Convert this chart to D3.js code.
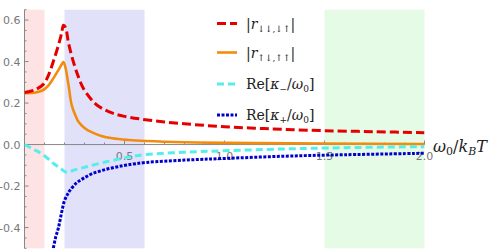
<!DOCTYPE html>
<html>
<head>
<meta charset="utf-8">
<script src="https://cdn.jsdelivr.net/npm/d3@7"></script>
<style>
  body { margin: 0; background: #fff; }
  svg { display: block; }
  .tick-label { font-family: "DejaVu Sans", sans-serif; font-size: 11px; fill: #777; }
  .math { font-family: "DejaVu Serif", "Liberation Serif", serif; fill: #222; }
</style>
</head>
<body>
<script>
var width = 490, height = 252;

// bands (x ranges)
var bands = [
	{ x0: 0.0, x1: 0.1, color: "#fde3e3" },
	{ x0: 0.2, x1: 0.6, color: "#e1e1fa" },
	{ x0: 1.5, x1: 2.0, color: "#e5fbe5" }
];

// |r_{↓↓,↓↑}|
var redX = [0, 0.05, 0.094, 0.12, 0.144, 0.17, 0.185, 0.195, 0.205, 0.22, 0.244, 0.27, 0.294, 0.33, 0.36, 0.4, 0.444, 0.5, 0.58, 0.7, 0.85, 1.0, 1.15, 1.3, 1.5, 1.75, 2.0];
var redY = [0.251, 0.263, 0.29, 0.335, 0.40, 0.48, 0.535, 0.575, 0.565, 0.49, 0.40, 0.325, 0.271, 0.222, 0.192, 0.168, 0.15, 0.136, 0.123, 0.109, 0.096, 0.086, 0.079, 0.073, 0.067, 0.062, 0.057];

// |r_{↑↓,↑↑}|
var orangeX = [0, 0.05, 0.094, 0.12, 0.144, 0.17, 0.185, 0.195, 0.205, 0.22, 0.236, 0.255, 0.27, 0.3, 0.33, 0.38, 0.44, 0.52, 0.61, 0.8, 1.0, 1.5, 2.0];
var orangeY = [0.248, 0.25, 0.263, 0.285, 0.319, 0.36, 0.385, 0.398, 0.37, 0.287, 0.19, 0.14, 0.11, 0.08, 0.062, 0.043, 0.03, 0.022, 0.017, 0.011, 0.008, 0.005, 0.003];

// Re[κ-/ω0]
var cyanX = [0, 0.05, 0.094, 0.144, 0.18, 0.211, 0.25, 0.31, 0.41, 0.51, 0.61, 0.8, 1.0, 1.3, 1.6, 2.0];
var cyanY = [0, -0.025, -0.05, -0.09, -0.115, -0.134, -0.122, -0.107, -0.083, -0.062, -0.048, -0.037, -0.03, -0.021, -0.015, -0.01];

// Re[κ+/ω0]
var blueX = [0.14, 0.155, 0.17, 0.185, 0.2, 0.215, 0.228, 0.26, 0.294, 0.34, 0.394, 0.45, 0.51, 0.61, 0.8, 1.0, 1.3, 1.6, 2.0];
var blueY = [-0.52, -0.45, -0.40, -0.33, -0.27, -0.24, -0.22, -0.185, -0.163, -0.14, -0.123, -0.11, -0.099, -0.086, -0.075, -0.067, -0.056, -0.049, -0.042];

var yMajor = [-0.4, -0.2, 0.0, 0.2, 0.4, 0.6];
var xMajor = [0.5, 1.0, 1.5, 2.0];

var x = d3.scaleLinear().domain([0, 2]).range([24.5, 424.5]);
var y = d3.scaleLinear().domain([-0.5, 0.65]).range([248.3, 9.7]);

var svg = d3.select("body").append("svg")
	.attr("width", width)
	.attr("height", height);

svg.append("clipPath").attr("id", "plot")
	.append("rect")
	.attr("x", x(0)).attr("y", y(0.65))
	.attr("width", x(2) - x(0)).attr("height", y(-0.5) - y(0.65));

// shaded regions
svg.selectAll("rect.band").data(bands).enter().append("rect")
	.attr("class", "band")
	.attr("x", function(d) { return x(d.x0); })
	.attr("y", y(0.65))
	.attr("width", function(d) { return x(d.x1) - x(d.x0); })
	.attr("height", y(-0.5) - y(0.65))
	.attr("fill", function(d) { return d.color; });

// axes
var axisColor = "#888";
var yAxis = svg.append("g").attr("transform", "translate(" + x(0) + ",0)");
yAxis.append("line").attr("y1", y(0.65)).attr("y2", y(-0.5)).attr("stroke", axisColor);
var yMinor = d3.range(-10, 14).map(function(i) { return i * 0.05; });
yAxis.selectAll("line.t").data(yMinor).enter().append("line")
	.attr("class", "t")
	.attr("x1", 0)
	.attr("x2", function(d) { return Math.abs(d / 0.2 - Math.round(d / 0.2)) < 1e-6 ? 4 : 2; })
	.attr("y1", function(d) { return y(d); })
	.attr("y2", function(d) { return y(d); })
	.attr("stroke", axisColor);
yAxis.selectAll("text").data(yMajor).enter().append("text")
	.attr("class", "tick-label")
	.attr("x", -4)
	.attr("y", function(d) { return y(d) + 4; })
	.attr("text-anchor", "end")
	.text(function(d) { return d3.format(".1f")(d).replace("−", "-"); });

var xAxis = svg.append("g").attr("transform", "translate(0," + y(0) + ")");
xAxis.append("line").attr("x1", x(0)).attr("x2", x(2)).attr("stroke", axisColor);
var xMinor = d3.range(1, 21).map(function(i) { return i * 0.1; });
xAxis.selectAll("line.t").data(xMinor).enter().append("line")
	.attr("class", "t")
	.attr("x1", function(d) { return x(d); })
	.attr("x2", function(d) { return x(d); })
	.attr("y1", 0)
	.attr("y2", function(d) { return Math.abs(d / 0.5 - Math.round(d / 0.5)) < 1e-6 ? -4 : -2; })
	.attr("stroke", axisColor);

// curves
function pts(xs, ys) { return xs.map(function(v, i) { return [v, ys[i]]; }); }
var line = d3.line()
	.x(function(d) { return x(d[0]); })
	.y(function(d) { return y(d[1]); })
	.curve(d3.curveCatmullRom.alpha(0.5));

var curves = [
	{ data: pts(orangeX, orangeY), color: "#f28c0f", w: 2.6, dash: null },
	{ data: pts(redX, redY), color: "#e50000", w: 3, dash: "9,4" },
	{ data: pts(cyanX, cyanY), color: "#55eeee", w: 3, dash: "7,4" },
	{ data: pts(blueX, blueY), color: "#0000cc", w: 3, dash: "3,1.5" }
];

var g = svg.append("g").attr("clip-path", "url(#plot)");
g.selectAll("path").data(curves).enter().append("path")
	.attr("d", function(d) { return line(d.data); })
	.attr("fill", "none")
	.attr("stroke", function(d) { return d.color; })
	.attr("stroke-width", function(d) { return d.w; })
	.attr("stroke-dasharray", function(d) { return d.dash; });

// x tick labels (drawn over curves)
xAxis.selectAll("text").data(xMajor).enter().append("text")
	.attr("class", "tick-label")
	.attr("x", function(d) { return x(d); })
	.attr("y", 15)
	.attr("text-anchor", "middle")
	.text(function(d) { return d3.format(".1f")(d); });

// axis label
var xl = svg.append("text").attr("class", "math")
	.attr("x", 433).attr("y", 152).attr("font-size", 16);
xl.append("tspan").attr("font-style", "italic").text("ω");
xl.append("tspan").attr("font-size", 11).attr("dy", 3).text("0");
xl.append("tspan").attr("dy", -3).text("/");
xl.append("tspan").attr("font-style", "italic").text("k");
xl.append("tspan").attr("font-size", 11).attr("font-style", "italic").attr("dy", 3).text("B");
xl.append("tspan").attr("font-style", "italic").attr("dy", -3).text("T");

// legend
var legend = [
	{ c: curves[1], rows: [["|", null], ["r", "i"], ["↓↓,↓↑", "sub"], ["|", null]] },
	{ c: curves[0], rows: [["|", null], ["r", "i"], ["↑↓,↑↑", "sub"], ["|", null]] },
	{ c: curves[2], rows: [["Re[", null], ["κ", "i"], ["−", "sub"], ["/", null], ["ω", "i"], ["0", "sub"], ["]", null]] },
	{ c: curves[3], rows: [["Re[", null], ["κ", "i"], ["+", "sub"], ["/", null], ["ω", "i"], ["0", "sub"], ["]", null]] }
];
var legendY = [23.5, 52.5, 84, 115];

legend.forEach(function(d, i) {
	var ly = legendY[i];
	svg.append("line")
		.attr("x1", 217).attr("x2", 237)
		.attr("y1", ly).attr("y2", ly)
		.attr("stroke", d.c.color)
		.attr("stroke-width", d.c.w)
		.attr("stroke-dasharray", d.c.dash);
	var t = svg.append("text").attr("class", "math")
		.attr("x", 246).attr("y", ly + 5).attr("font-size", 14);
	var shifted = false;
	d.rows.forEach(function(p) {
		var s = t.append("tspan").text(p[0]);
		if (p[1] === "i") s.attr("font-style", "italic");
		if (p[1] === "sub") {
			s.attr("font-size", 9).attr("dy", shifted ? 0 : 3);
			shifted = true;
		} else if (shifted) {
			s.attr("dy", -3);
			shifted = false;
		}
	});
});
</script>
</body>
</html>
